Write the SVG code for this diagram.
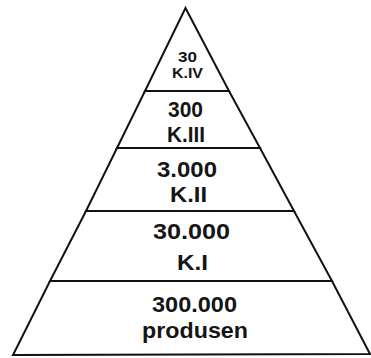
<svg xmlns="http://www.w3.org/2000/svg" width="371" height="358" viewBox="0 0 371 358">
<style>
.tier{fill:#fff;stroke:#111;stroke-width:2;stroke-linejoin:miter}
.t{font-family:"Liberation Sans",Arial,sans-serif;font-weight:bold;font-size:22px;fill:#151515;text-anchor:middle}
.s{font-size:15.5px}
</style>
<rect width="371" height="358" fill="#fff"/>
<g id="tier-kIV">
<polygon class="tier" points="185.5,8 229,91 145,91"/>
<text class="t s" x="187.5" y="61.5" textLength="19" lengthAdjust="spacingAndGlyphs">30</text>
<text class="t s" x="187.5" y="78" textLength="31" lengthAdjust="spacingAndGlyphs">K.IV</text>
</g>
<g id="tier-kIII">
<polygon class="tier" points="145,91 229,91 260,148 117,148"/>
<text class="t" x="185.5" y="117" textLength="35" lengthAdjust="spacingAndGlyphs">300</text>
<text class="t" x="186" y="142" textLength="38" lengthAdjust="spacingAndGlyphs">K.III</text>
</g>
<g id="tier-kII">
<polygon class="tier" points="117,148 260,148 294,211 86,211"/>
<text class="t" x="187" y="177" textLength="60" lengthAdjust="spacingAndGlyphs">3.000</text>
<text class="t" x="188.5" y="202" textLength="37" lengthAdjust="spacingAndGlyphs">K.II</text>
</g>
<g id="tier-kI">
<polygon class="tier" points="86,211 294,211 332,281 50,281"/>
<text class="t" x="191.5" y="239" textLength="77" lengthAdjust="spacingAndGlyphs">30.000</text>
<text class="t" x="192.5" y="270" textLength="31" lengthAdjust="spacingAndGlyphs">K.I</text>
</g>
<g id="tier-produsen">
<polygon class="tier" points="50,281 332,281 370,354 13,355"/>
<text class="t" x="194.5" y="312" textLength="85" lengthAdjust="spacingAndGlyphs">300.000</text>
<text class="t" x="195" y="338" textLength="106" lengthAdjust="spacingAndGlyphs">produsen</text>
</g>
<g id="connectors"></g>
</svg>
